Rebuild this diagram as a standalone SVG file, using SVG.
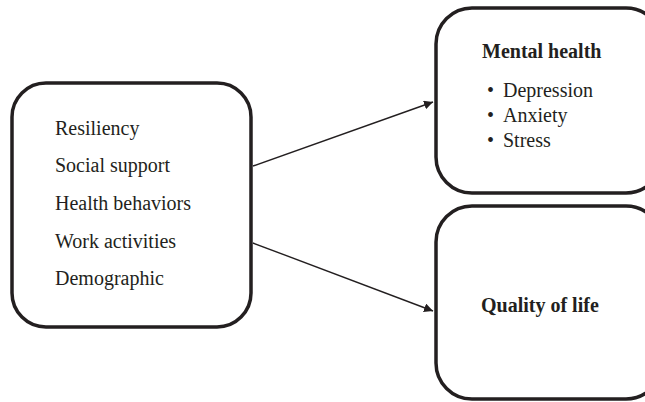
<svg xmlns="http://www.w3.org/2000/svg" width="645" height="402" viewBox="0 0 645 402">
<style>
.box{fill:#fff;stroke:#231f20;stroke-width:3.5}
.t{font-family:"Liberation Serif","Times New Roman",serif;font-size:20px;fill:#231f20}
.b{font-weight:bold}
.c{stroke:#231f20;stroke-width:1.4;fill:none}
</style>
<defs>
<marker id="ah" viewBox="0 0 10 10" refX="10" refY="5" markerWidth="9" markerHeight="9" markerUnits="userSpaceOnUse" orient="auto">
<path d="M0,0 L10,5 L0,10 z" fill="#231f20"/>
</marker>
</defs>
<rect width="645" height="402" fill="#fff"/>
<g id="connectors">
<line class="c" x1="253" y1="166" x2="433" y2="102" marker-end="url(#ah)"/>
<line class="c" x1="253" y1="243" x2="433" y2="311" marker-end="url(#ah)"/>
</g>
<g id="factors">
<rect class="box" x="12" y="83" width="239" height="244" rx="34"/>
<text class="t" x="55" y="135">Resiliency</text>
<text class="t" x="55" y="172">Social support</text>
<text class="t" x="55" y="210">Health behaviors</text>
<text class="t" x="55" y="248">Work activities</text>
<text class="t" x="55" y="285">Demographic</text>
</g>
<g id="mental-health">
<rect class="box" x="436" y="8" width="226" height="185" rx="36"/>
<text class="t b" x="482" y="58">Mental health</text>
<text class="t" x="487" y="97">•<tspan x="503">Depression</tspan></text>
<text class="t" x="487" y="122">•<tspan x="503">Anxiety</tspan></text>
<text class="t" x="487" y="147">•<tspan x="503">Stress</tspan></text>
</g>
<g id="quality-of-life">
<rect class="box" x="436" y="206" width="226" height="193" rx="36"/>
<text class="t b" x="481" y="312">Quality of life</text>
</g>
</svg>
